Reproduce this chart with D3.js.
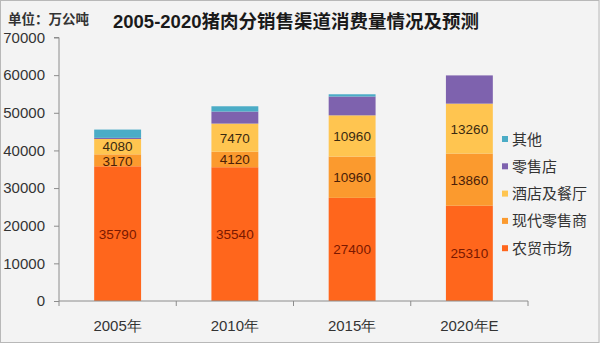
<!DOCTYPE html>
<html><head><meta charset="utf-8">
<script src="https://cdn.jsdelivr.net/npm/d3@7/dist/d3.min.js"></script>
<style>
html,body{margin:0;padding:0;background:#f3f3f3;}
svg{display:block;font-family:"Liberation Sans","Noto Sans CJK SC",sans-serif;}
</style></head><body>
<svg id="chart" width="600" height="343"></svg>
<script>
const categories = ["2005年","2010年","2015年","2020年E"];
const farmMarket = [35790,35540,27400,25310];
const modernRetail = [3170,4120,10960,13860];
const hotelRestaurant = [4080,7470,10960,13260];
const retailStore = [300,3200,5000,7500];
const others = [2200,1400,600,0];
const yTicks = [0,10000,20000,30000,40000,50000,60000,70000];
const seriesNames = ["农贸市场","现代零售商","酒店及餐厅","零售店","其他"];
const seriesColors = ["#ff661c","#fb9a2e","#ffc550","#7e62ae","#4bacc6"];
const labelColors = ["#7a1800","#4a2008","#3a2a10",null,null];
const title = "2005-2020猪肉分销售渠道消费量情况及预测";
const unitText = "单位：万公吨";

const seriesValues = [farmMarket, modernRetail, hotelRestaurant, retailStore, others];
const rows = categories.map((c,i)=>{
  const r = {cat:c};
  seriesNames.forEach((s,j)=>r[s]=seriesValues[j][i]);
  return r;
});
const stack = d3.stack().keys(seriesNames)(rows);

const svg = d3.select("#chart");
const W=600,H=343;
const mLeft=59,mRight=528,mTop=37.5,mBottom=301;

svg.append("rect").attr("x",0.5).attr("y",0.5).attr("width",W-1.5).attr("height",H-1)
  .attr("fill","#f3f3f3").attr("stroke","#b8b8b8");

const x = d3.scaleBand().domain(categories).range([mLeft,mRight]).paddingInner(0.6).paddingOuter(0.3);
const y = d3.scaleLinear().domain([0,70000]).range([mBottom,mTop]);

// bars
const g = svg.append("g");
stack.forEach((layer,j)=>{
  g.selectAll(null).data(layer).enter().append("rect")
    .attr("x",d=>x(d.data.cat))
    .attr("width",x.bandwidth())
    .attr("y",d=>y(d[1]))
    .attr("height",d=>Math.max(0,y(d[0])-y(d[1])))
    .attr("fill",seriesColors[j]);
});
// labels for bottom three series, pushed apart if too close
const labelFont = 13.5, minGap = 14.5;
categories.forEach((c,i)=>{
  const items = [0,1,2].map(j=>{
    const d = stack[j][i];
    return {j, v:d[1]-d[0], cy:(y(d[0])+y(d[1]))/2};
  });
  // items ordered bottom to top (cy decreasing)
  for(let k=1;k<items.length;k++){
    const gap = items[k-1].cy - items[k].cy;
    if(gap < minGap){
      const shift = (minGap-gap)/2;
      items[k-1].cy += shift; items[k].cy -= shift;
    }
  }
  items.forEach(it=>{
    g.append("text")
      .attr("x",x(c)+x.bandwidth()/2)
      .attr("y",it.cy+5)
      .attr("text-anchor","middle")
      .attr("font-size",labelFont)
      .attr("fill",labelColors[it.j])
      .text(it.v);
  });
});

// y axis
const yAxis = svg.append("g").attr("transform",`translate(${mLeft},0)`)
  .call(d3.axisLeft(y).tickValues(yTicks).tickSize(5).tickPadding(9).tickFormat(d3.format("d")));
yAxis.select(".domain").attr("stroke","#8c8c8c").attr("d",`M-5,${mTop}H0V${mBottom}`);
yAxis.selectAll(".tick line").attr("stroke","#8c8c8c");
yAxis.selectAll("text").attr("font-size",15).attr("fill","#333").attr("font-family","Liberation Sans, sans-serif");

// x axis
const xAxis = svg.append("g").attr("transform",`translate(0,${mBottom})`)
  .call(d3.axisBottom(x).tickSize(0).tickPadding(19));
xAxis.select(".domain").attr("stroke","#8c8c8c").attr("d",`M${mLeft},0H${mRight}`);
xAxis.selectAll("text").attr("font-size",15).attr("fill","#333");
const step = x.step();
const bounds = categories.map(c=>x(c)-x.paddingInner()*step/2).concat([mRight]);
xAxis.selectAll(".bt").data(bounds).enter().append("line")
  .attr("x1",d=>d).attr("x2",d=>d).attr("y1",0).attr("y2",5).attr("stroke","#8c8c8c");

// title
svg.append("text").attr("x",296).attr("y",28).attr("text-anchor","middle")
  .attr("font-size",18.5).attr("font-weight","bold").attr("fill","#1a1a1a").text(title);
svg.append("text").attr("x",8).attr("y",24).attr("font-size",13.5).attr("font-weight","bold")
  .attr("fill","#333").text(unitText);

// legend
const legendNames = seriesNames.slice().reverse();
const legendColors = seriesColors.slice().reverse();
const lg = svg.append("g");
legendNames.forEach((n,i)=>{
  const yy = 139 + i*27.3;
  lg.append("rect").attr("x",502).attr("y",yy-3).attr("width",6).attr("height",6).attr("fill",legendColors[i]);
  lg.append("text").attr("x",512).attr("y",yy+5.5).attr("font-size",15).attr("fill","#333").text(n);
});
</script></body></html>
